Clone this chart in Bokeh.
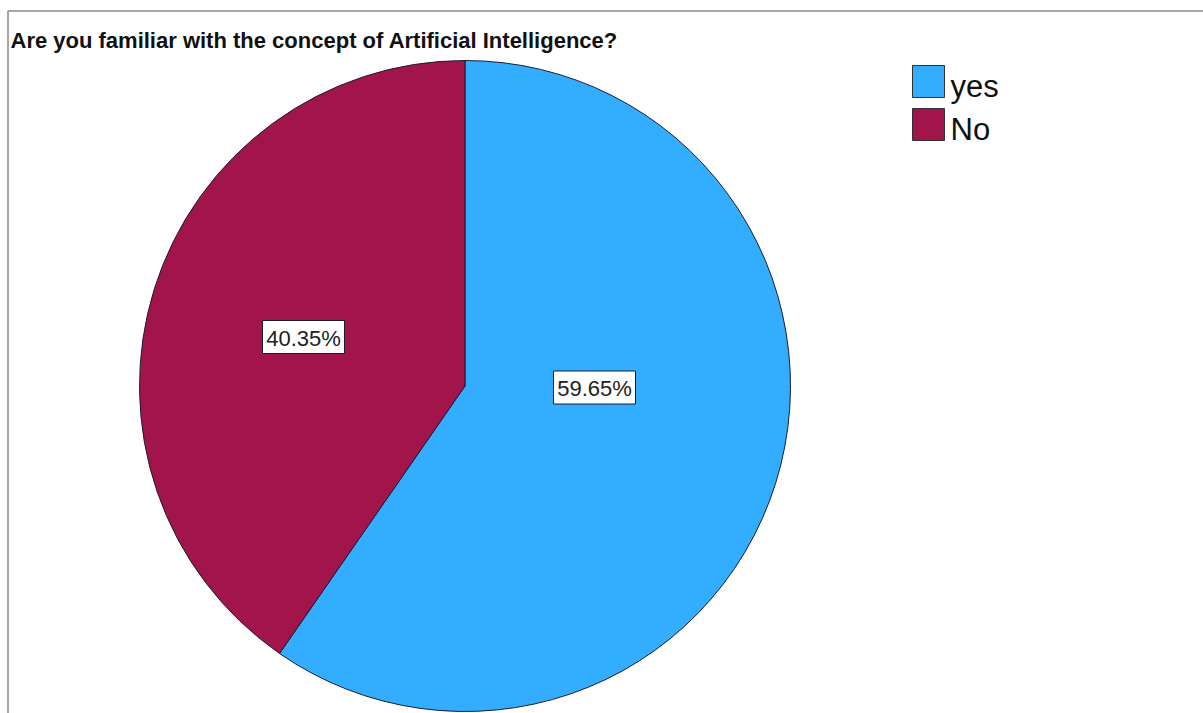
import math
from bokeh.plotting import figure
from bokeh.models import Range1d
from bokeh.core.properties import value
from bokeh.embed import file_html
from bokeh.resources import INLINE

# ---- data ----
categories = ["yes", "No"]
percents = [59.65, 40.35]
pct_labels = ["59.65%", "40.35%"]
colors = ["#33adff", "#a1154a"]
title_text = "Are you familiar with the concept of Artificial Intelligence?"

# ---- layout (pixel space, y measured from top) ----
W, H = 1203, 713
def Y(py):
    return H - py

cx, cy, R = 464.5, 385.5, 325.5
label_pos = [(594, 387), (303, 336.5)]
legend_x, legend_y0, legend_dy, sq = 928, 81, 43, 32

p = figure(width=W, height=H, x_range=Range1d(0, W), y_range=Range1d(0, H),
           output_backend="svg", toolbar_location=None, min_border=0,
           x_axis_type=None, y_axis_type=None)
p.grid.visible = False
p.outline_line_color = None
p.background_fill_color = "white"
p.border_fill_color = "white"
p.title.visible = False

# frame lines
p.line(x=[7.5, 7.5, W], y=[0, Y(10.5), Y(10.5)], line_color="#8a8a8a", line_width=1.5)

# pie
total = sum(percents)
starts, ends = [], []
cum = 0.0
for v in percents:
    a0 = math.pi / 2 - 2 * math.pi * cum / total
    cum += v
    a1 = math.pi / 2 - 2 * math.pi * cum / total
    starts.append(a1)
    ends.append(a0)
p.wedge(x=[cx] * len(percents), y=[Y(cy)] * len(percents), radius=R,
        start_angle=starts, end_angle=ends, direction="anticlock",
        fill_color=colors, line_color="#1c1c3a", line_width=1)

# value labels
lx = [q[0] for q in label_pos]
ly = [Y(q[1]) for q in label_pos]
p.rect(x=lx, y=ly, width=82, height=33, fill_color="white",
       line_color="#1c1c2a", line_width=1)
p.text(x=lx, y=[v - 1 for v in ly], text=pct_labels, text_align="center",
       text_baseline="middle", text_font=value("Liberation Sans"),
       text_font_size="22px", text_color="#222222")

# title
p.text(x=[10], y=[Y(40)], text=[title_text], text_align="left",
       text_baseline="middle", text_font=value("Liberation Sans"),
       text_font_style="bold", text_font_size="22px", text_color="#111111")

# legend
sy = [Y(legend_y0 + i * legend_dy) for i in range(len(categories))]
p.rect(x=[legend_x] * len(categories), y=sy, width=sq, height=sq,
       fill_color=colors, line_color="#333333", line_width=1)
p.text(x=[legend_x + sq / 2 + 6] * len(categories),
       y=[v - sq / 2 + 11 for v in sy], text=categories, text_align="left",
       text_baseline="middle", text_font=value("Liberation Sans"),
       text_font_size="31px", text_color="#111111")

open("out.html", "w").write(file_html(p, INLINE))
